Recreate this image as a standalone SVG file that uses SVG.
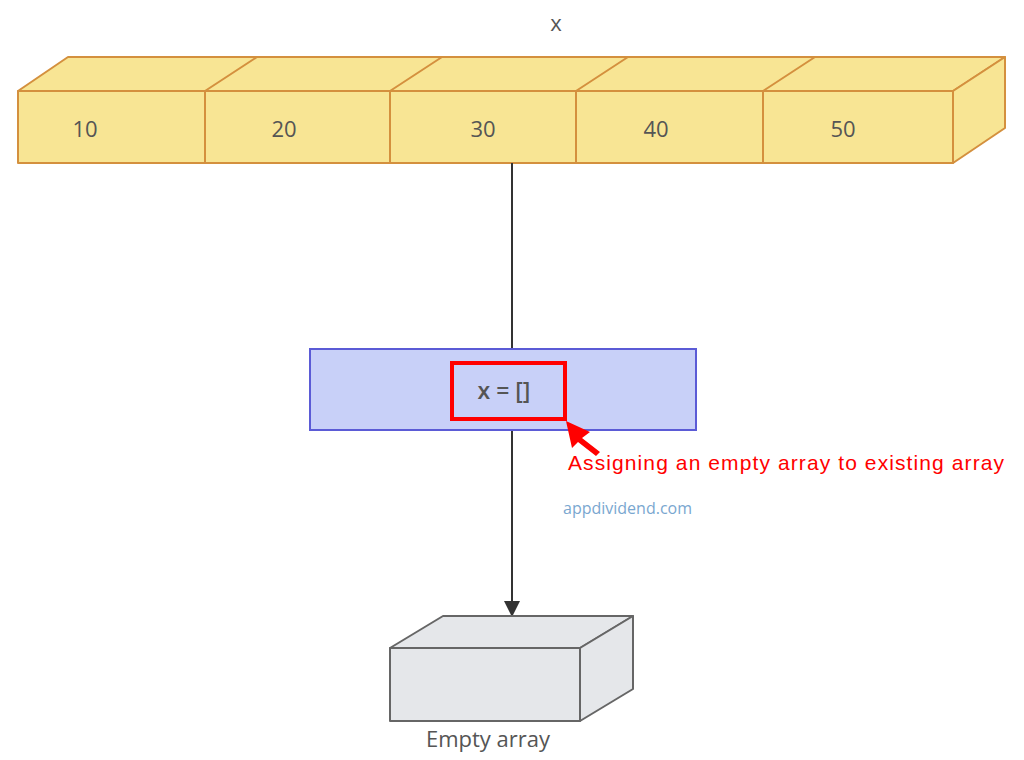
<svg xmlns="http://www.w3.org/2000/svg" width="1024" height="760" viewBox="0 0 1024 760">
<style>
.arr{fill:#f8e594;stroke:#d4903e;stroke-width:2;stroke-linejoin:round}
.t{font-family:"Open Sans","Liberation Sans",sans-serif;fill:#555;font-size:22px;text-anchor:middle}
.gray{fill:#e5e7ea;stroke:#666;stroke-width:2;stroke-linejoin:round}
</style>
<defs><marker id="ah" markerWidth="16" markerHeight="16" refX="15" refY="8" orient="auto" markerUnits="userSpaceOnUse"><path d="M0,0 L16,8 L0,16 z" fill="#333"/></marker></defs>
<rect width="1024" height="760" fill="#fff"/>
<g id="array-x">
<text class="t" x="556" y="31">x</text>
<path class="arr" d="M18,91 L68,57 L1005,57 L953,91 Z"/>
<path class="arr" d="M953,91 L1005,57 L1005,128 L953,163 Z"/>
<rect class="arr" x="18" y="91" width="935" height="72"/>
<path d="M205,91 V163 M390,91 V163 M576,91 V163 M763,91 V163 M205,91 L257,57 M390,91 L442,57 M576,91 L628,57 M763,91 L815,57" stroke="#d4903e" stroke-width="2" fill="none"/>
<text class="t" x="85" y="137">10</text>
<text class="t" x="284" y="137">20</text>
<text class="t" x="483" y="137">30</text>
<text class="t" x="656" y="137">40</text>
<text class="t" x="843" y="137">50</text>
</g>
<g id="connectors">
<line x1="512" y1="163" x2="512" y2="349" stroke="#333" stroke-width="2"/>
<line x1="512" y1="430" x2="512" y2="616" stroke="#333" stroke-width="2" marker-end="url(#ah)"/>
</g>
<g id="assign">
<rect x="310" y="349" width="386" height="81" fill="#c8d0f8" stroke="#5b5bd6" stroke-width="2"/>
<text class="t" x="504" y="399" style="font-weight:600;font-size:23px">x = []</text>
</g>
<g id="annotation">
<rect x="452" y="363" width="113" height="56" fill="none" stroke="#f00" stroke-width="4"/>
<path d="M566,421 L590,432 L582,438 L600,452 L596,456 L578,442 L572,448 Z" fill="#f00"/>
<text x="568" y="470" font-family="Liberation Sans,Arial,sans-serif" font-size="21" textLength="436" fill="#f00">Assigning an empty array to existing array</text>
<text x="563" y="514" font-family="Open Sans,Liberation Sans,sans-serif" font-size="16" fill="#7aa7d0">appdividend.com</text>
</g>
<g id="empty-array">
<path class="gray" d="M390,648 L443,616 L633,616 L580,648 Z"/>
<path class="gray" d="M580,648 L633,616 L633,689 L580,721 Z"/>
<rect class="gray" x="390" y="648" width="190" height="73"/>
<text class="t" x="488" y="747" style="font-size:22px">Empty array</text>
</g>
</svg>
